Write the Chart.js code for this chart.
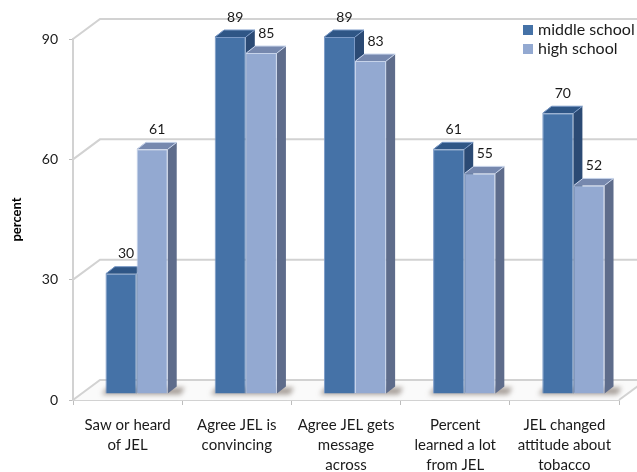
<!DOCTYPE html>
<html>
<head>
<meta charset="utf-8">
<script src="https://cdn.jsdelivr.net/npm/chart.js@4.4.1/dist/chart.umd.min.js"></script>
<style>
  html, body { margin: 0; padding: 0; background: #ffffff; }
  canvas { display: block; }
</style>
</head>
<body>
<canvas id="chart" width="637" height="472"></canvas>
<script>
// ---- data ----
const categories = [
  ["Saw or heard", "of JEL"],
  ["Agree JEL is", "convincing"],
  ["Agree JEL gets", "message", "across"],
  ["Percent", "learned a lot", "from JEL"],
  ["JEL changed", "attitude about", "tobacco"]
];
const seriesNames = ["middle school", "high school"];
const middleSchool = [30, 89, 89, 61, 70];
const highSchool = [61, 85, 83, 55, 52];
const yTicks = [0, 30, 60, 90];

// ---- look ----
const FONT = 'Lato, "Open Sans", sans-serif';
const SHIFT = { x: 9, y: -6 };    // bars stand a little inside the floor
const DEPTH = { x: 9, y: -7 };    // depth of each bar
const WALL = { x: 27, y: -20 };   // depth of floor and walls
const faces = [
  { front: '#4572a7', top: '#2f5686', side: '#2b4a74', edge: '#7a99c6' },
  { front: '#93a9d1', top: '#7688ae', side: '#5e6c8b', edge: '#c6d3ea' }
];
const GRID = '#d2d2d2';

function poly(ctx, pts, fill) {
  ctx.beginPath();
  ctx.moveTo(pts[0][0], pts[0][1]);
  for (let i = 1; i < pts.length; i++) ctx.lineTo(pts[i][0], pts[i][1]);
  ctx.closePath();
  ctx.fillStyle = fill;
  ctx.fill();
}

// walls, floor, bar depth faces, value labels
const scene3d = {
  id: 'scene3d',
  beforeDatasetsDraw(chart) {
    const { ctx, chartArea: a, scales: { y } } = chart;
    const y0 = y.getPixelForValue(0);
    ctx.save();
    // floor
    poly(ctx, [[a.left, y0], [a.right, y0], [a.right + WALL.x, y0 + WALL.y], [a.left + WALL.x, y0 + WALL.y]], '#fafafa');
    ctx.strokeStyle = GRID;
    ctx.lineWidth = 2;
    yTicks.forEach(v => {
      const py = y.getPixelForValue(v);
      ctx.beginPath();
      ctx.moveTo(a.left, py);
      ctx.lineTo(a.left + WALL.x, py + WALL.y);
      ctx.lineTo(chart.width + 40, py + WALL.y);
      ctx.stroke();
    });
    ctx.beginPath();
    ctx.moveTo(a.right, y0);
    ctx.lineTo(a.right + WALL.x, y0 + WALL.y);
    ctx.stroke();
    ctx.restore();

    // bars sit inside the depth of the floor
    ctx.save();
    ctx.translate(SHIFT.x, SHIFT.y);

    const metas = chart.data.datasets.map((d, i) => chart.getDatasetMeta(i).data);

    // soft shadows under each pair of bars
    ctx.save();
    ctx.filter = 'blur(2.5px)';
    for (let i = 0; i < metas[0].length; i++) {
      const b0 = metas[0][i].getProps(['x', 'width', 'base'], true);
      const b1 = metas[1][i].getProps(['x', 'width', 'base'], true);
      const l = b0.x - b0.width / 2 - 4;
      const r = b1.x + b1.width / 2 + DEPTH.x + 8;
      const base = b0.base;
      poly(ctx, [[l, base + 1], [r - 4, base + 1], [r, base - 6], [l + 6, base - 6]], 'rgba(95,80,70,0.55)');
    }
    ctx.restore();

    // side and top faces, left to right; the front faces are drawn by the bar controller afterwards
    for (let i = 0; i < metas[0].length; i++) {
      metas.forEach((data, di) => {
        const f = faces[di];
        const { x, y: top, base, width } = data[i].getProps(['x', 'y', 'base', 'width'], true);
        const l = x - width / 2, r = x + width / 2;
        poly(ctx, [[r, top], [r + DEPTH.x, top + DEPTH.y], [r + DEPTH.x, base + DEPTH.y], [r, base]], f.side);
        poly(ctx, [[l, top], [r, top], [r + DEPTH.x, top + DEPTH.y], [l + DEPTH.x, top + DEPTH.y]], f.top);
        ctx.strokeStyle = f.edge;
        ctx.lineWidth = 1;
        ctx.beginPath();
        ctx.moveTo(l + 0.5, top);
        ctx.lineTo(l + DEPTH.x + 0.5, top + DEPTH.y);
        ctx.lineTo(r + DEPTH.x, top + DEPTH.y);
        ctx.lineTo(r, top);
        ctx.stroke();
      });
    }
  },
  afterDatasetsDraw(chart) {
    const ctx = chart.ctx;
    ctx.fillStyle = '#1a1a1a';
    ctx.font = '14px ' + FONT;
    ctx.textAlign = 'center';
    ctx.textBaseline = 'middle';
    chart.data.datasets.forEach((ds, di) => {
      chart.getDatasetMeta(di).data.forEach((bar, i) => {
        const { x, y } = bar.getProps(['x', 'y'], true);
        ctx.fillText(String(ds.data[i]), x + 5, y - 20);
      });
    });
    ctx.restore();
  }
};

// legend in the upper right corner
const cornerLegend = {
  id: 'cornerLegend',
  afterDraw(chart) {
    const ctx = chart.ctx;
    ctx.save();
    ctx.font = '16px ' + FONT;
    ctx.textAlign = 'left';
    ctx.textBaseline = 'middle';
    seriesNames.forEach((name, i) => {
      const cy = 30 + i * 19;
      ctx.fillStyle = faces[i].front;
      ctx.fillRect(523, cy - 5, 10, 10);
      ctx.fillStyle = '#1a1a1a';
      ctx.fillText(name, 538, cy);
    });
    ctx.restore();
  }
};

new Chart(document.getElementById('chart'), {
  type: 'bar',
  data: {
    labels: categories,
    datasets: [
      {
        label: seriesNames[0], data: middleSchool,
        backgroundColor: faces[0].front, borderColor: faces[0].edge, borderWidth: 1,
        categoryPercentage: 0.57, barPercentage: 1.0, clip: false
      },
      {
        label: seriesNames[1], data: highSchool,
        backgroundColor: faces[1].front, borderColor: faces[1].edge, borderWidth: 1,
        categoryPercentage: 0.57, barPercentage: 1.0, clip: false
      }
    ]
  },
  options: {
    responsive: false,
    devicePixelRatio: 1,
    animation: false,
    layout: { padding: { top: 39, right: 18, left: 0, bottom: 0 } },
    plugins: { legend: { display: false }, tooltip: { enabled: false } },
    scales: {
      x: {
        grid: { drawOnChartArea: false, tickLength: 5, color: '#bdbdbd', offset: true },
        border: { color: GRID, width: 2 },
        ticks: {
          color: '#1a1a1a', font: { family: FONT, size: 15, lineHeight: 1.33 },
          maxRotation: 0, autoSkip: false, padding: 10
        },
        afterFit(scale) { scale.height = 72; }
      },
      y: {
        min: 0, max: 90,
        afterBuildTicks(scale) { scale.ticks = yTicks.map(v => ({ value: v })); },
        grid: { drawOnChartArea: false, tickLength: 4, color: '#bdbdbd' },
        border: { color: GRID, width: 2 },
        ticks: { color: '#1a1a1a', font: { family: FONT, size: 14 }, padding: 11 },
        title: {
          display: true, text: 'percent', color: '#000',
          font: { family: FONT, size: 13, weight: 'bold' }, padding: { top: 9, bottom: 0 }
        },
        afterFit(scale) { scale.width = 73; }
      }
    }
  },
  plugins: [scene3d, cornerLegend]
});
</script>
</body>
</html>
